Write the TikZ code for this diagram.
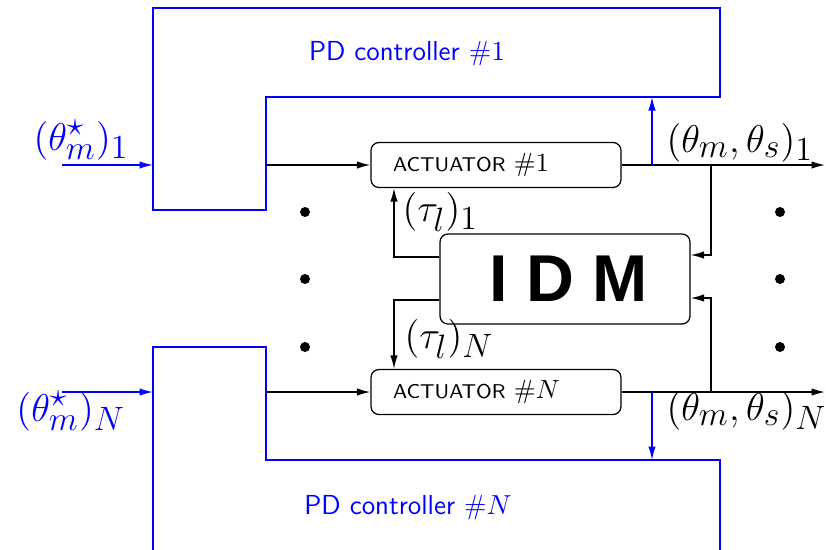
\RequirePackage{fix-cm}
\documentclass[tikz,border=0pt]{standalone}
\usepackage{fontspec}
\newfontfamily\idmfont{Liberation Sans}
\usetikzlibrary{arrows.meta}
\DeclareMathSizes{15.5}{15.5}{13.5}{10}
\tikzset{
 wire/.style={line width=0.55pt},
 arr/.style={wire,-{Latex[length=5.4pt,width=3pt]}},
 bwire/.style={blue,line width=0.6pt},
 barr/.style={bwire,-{Latex[length=5.4pt,width=3pt]}},
 actbox/.style={draw,line width=0.5pt,rounded corners=3.2pt,minimum width=100pt,minimum height=18pt,text width=82.4pt,inner xsep=8.8pt,inner ysep=0pt,align=left},
 idmbox/.style={draw,line width=0.5pt,rounded corners=3.2pt,minimum width=100pt,minimum height=36pt},
 lab/.style={font=\fontsize{15.5}{17}\selectfont,inner sep=0pt},
 pdlab/.style={blue,font=\sffamily\fontsize{11}{13}\selectfont,anchor=base},
 dotmark/.style={circle,fill,inner sep=0pt,minimum size=4pt},
}
\newcommand{\acttext}[1]{\sffamily\fontsize{8}{9}\selectfont ACTUATOR {\fontsize{10.5}{11}\selectfont$\##1$}}
\begin{document}
\begin{tikzpicture}[x=0.4pt,y=-0.4pt]
\useasboundingbox (0,0) rectangle (826,549);
\begin{scope}
\clip (0,0) rectangle (826,549);
\draw[bwire] (153,8) -- (720,8) -- (720,97) -- (266,97) -- (266,210) -- (153,210) -- cycle;
\draw[bwire] (153,560) -- (153,347) -- (266,347) -- (266,460) -- (720,460) -- (720,560);
\end{scope}
\node[pdlab] (pd1) at (407,60) {PD controller $\#1$};
\node[pdlab] (pdN) at (408,514) {PD controller $\#N$};
% coordinates
\coordinate (pd1in) at (153,165);
\coordinate (pd1out) at (266,165);
\coordinate (pdNin) at (153,392);
\coordinate (pdNout) at (266,392);
\coordinate (in1) at (62,165);
\coordinate (inN) at (62,392);
\coordinate (pd1fb) at (652,97);
\coordinate (pdNfb) at (652,460);
\coordinate (e1) at (825,165);
\coordinate (eN) at (825,392);
\coordinate (f1) at (652,165);
\coordinate (fN) at (652,392);
\coordinate (s1) at (711,165);
\coordinate (sN) at (711,392);
\coordinate (r1) at (711,255);
\coordinate (rN) at (711,298);
\coordinate (t1) at (394,257);
\coordinate (tN) at (394,300);
% blocks
\node[actbox] (act1) at (496,165) {\acttext{1}};
\node[actbox] (actN) at (496,392) {\acttext{N}};
\node[idmbox] (idm) at (565,279) {\hspace*{3pt}\idmfont\bfseries\fontsize{26.5}{30}\selectfont I D M};
% wires
\draw[barr] (in1) -- (pd1in);
\draw[barr] (inN) -- (pdNin);
\draw[arr] (pd1out) -- (act1.west);
\draw[arr] (pdNout) -- (actN.west);
\draw[arr] (act1.east) -- (e1);
\draw[arr] (actN.east) -- (eN);
\draw[barr] (f1) -- (pd1fb);
\draw[barr] (fN) -- (pdNfb);
\draw[arr] (s1) -- (r1) -- (idm.east |- r1);
\draw[arr] (sN) -- (rN) -- (idm.east |- rN);
\draw[arr] (idm.west |- t1) -- (t1) -- (act1.south -| t1);
\draw[arr] (idm.west |- tN) -- (tN) -- (actN.north -| tN);
% dots
\node[dotmark] (dl1) at (305,212) {};
\node[dotmark] (dl2) at (305,279) {};
\node[dotmark] (dl3) at (305,347) {};
\node[dotmark] (dr1) at (780,212) {};
\node[dotmark] (dr2) at (780,279) {};
\node[dotmark] (dr3) at (780,347) {};
% labels
\node[lab,blue,anchor=base west] (lin1) at (33,150) {$(\theta_m^\star)_1$};
\node[lab,blue,anchor=base west] (linN) at (16,421) {$(\theta_m^\star)_N$};
\node[lab,anchor=base west] (lo1) at (666,152) {$(\theta_m,\theta_s)_1$};
\node[lab,anchor=base west] (loN) at (666,420) {$(\theta_m,\theta_s)_N$};
\node[lab,anchor=base west] (lt1) at (402,221) {$(\tau_l)_1$};
\node[lab,anchor=base west] (ltN) at (404,348) {$(\tau_l)_N$};
\end{tikzpicture}
\end{document}
